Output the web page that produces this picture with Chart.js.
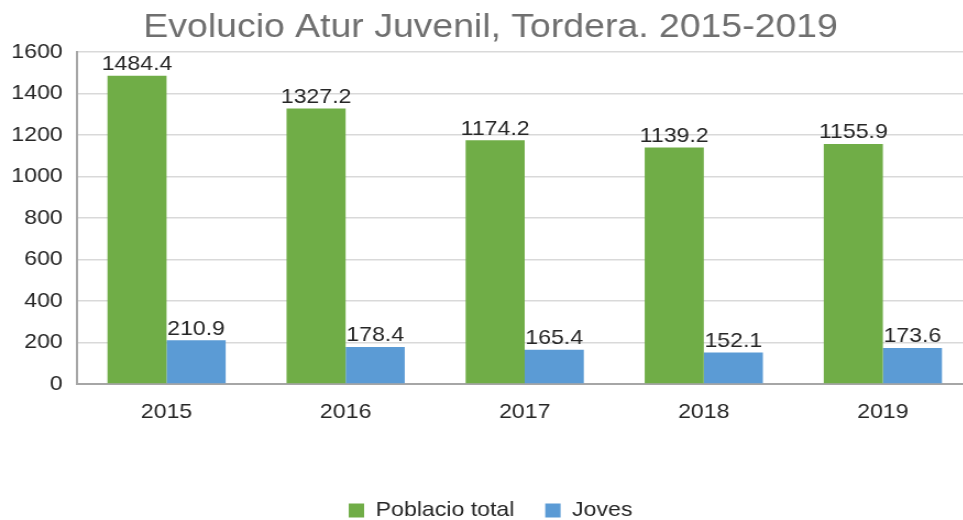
<!DOCTYPE html>
<html>
<head>
<meta charset="utf-8">
<script src="https://cdn.jsdelivr.net/npm/chart.js@4/dist/chart.umd.min.js"></script>
<style>
  html, body { margin: 0; padding: 0; overflow: hidden; background: #ffffff; }
  #wrap { width: 884px; height: 520px; transform: scaleX(1.1); transform-origin: 0 0; }
</style>
</head>
<body>
<div id="wrap"><canvas id="c" width="884" height="520"></canvas></div>
<script>
const years = ['2015', '2016', '2017', '2018', '2019'];
const poblacioTotal = [1484.4, 1327.2, 1174.2, 1139.2, 1155.9];
const joves = [210.9, 178.4, 165.4, 152.1, 173.6];
const yTicks = [0, 200, 400, 600, 800, 1000, 1200, 1400, 1600];

const FONT = 'Liberation Sans, Arial, sans-serif';

const valueLabels = {
  id: 'valueLabels',
  afterDatasetsDraw(chart) {
    const ctx = chart.ctx;
    ctx.save();
    ctx.font = '21px ' + FONT;
    ctx.fillStyle = '#262626';
    ctx.textAlign = 'center';
    ctx.textBaseline = 'bottom';
    chart.data.datasets.forEach((ds, i) => {
      const meta = chart.getDatasetMeta(i);
      meta.data.forEach((el, j) => {
        ctx.fillText(ds.data[j].toFixed(1), el.x, el.y - 1);
      });
    });
    ctx.restore();
  }
};

new Chart(document.getElementById('c'), {
  type: 'bar',
  data: {
    labels: years,
    datasets: [
      { label: 'Poblacio total', data: poblacioTotal, backgroundColor: '#70AD47',
        categoryPercentage: 0.66, barPercentage: 1.0 },
      { label: 'Joves', data: joves, backgroundColor: '#5B9BD5',
        categoryPercentage: 0.66, barPercentage: 1.0 }
    ]
  },
  options: {
    responsive: false,
    devicePixelRatio: 1,
    animation: false,
    layout: { padding: { left: 8, right: 0, top: 0, bottom: -11 } },
    plugins: {
      tooltip: { enabled: false },
      title: {
        display: true,
        text: 'Evolucio Atur Juvenil, Tordera. 2015-2019',
        color: '#6f6f6f',
        font: { family: FONT, size: 34, weight: 'normal', lineHeight: 1.2 },
        padding: { top: 7, bottom: 4 }
      },
      legend: {
        position: 'bottom',
        labels: {
          color: '#262626',
          font: { family: FONT, size: 21 },
          boxWidth: 14,
          boxHeight: 14,
          padding: 28
        }
      }
    },
    scales: {
      x: {
        grid: { display: false },
        border: { display: true, color: '#a6a6a6', width: 2 },
        ticks: { color: '#262626', font: { family: FONT, size: 21 }, padding: 8 },
        afterFit(scale) { scale.height = 88; }
      },
      y: {
        min: 0, max: 1600,
        afterBuildTicks(scale) { scale.ticks = yTicks.map(v => ({ value: v })); },
        grid: { color: '#d9d9d9', lineWidth: 1.5, drawTicks: false },
        border: { display: true, color: '#a6a6a6', width: 2 },
        ticks: { color: '#262626', font: { family: FONT, size: 21 }, padding: 13,
                 callback: (v) => String(v) },
        afterFit(scale) { scale.width = 62; }
      }
    }
  },
  plugins: [valueLabels]
});
</script>
</body>
</html>
